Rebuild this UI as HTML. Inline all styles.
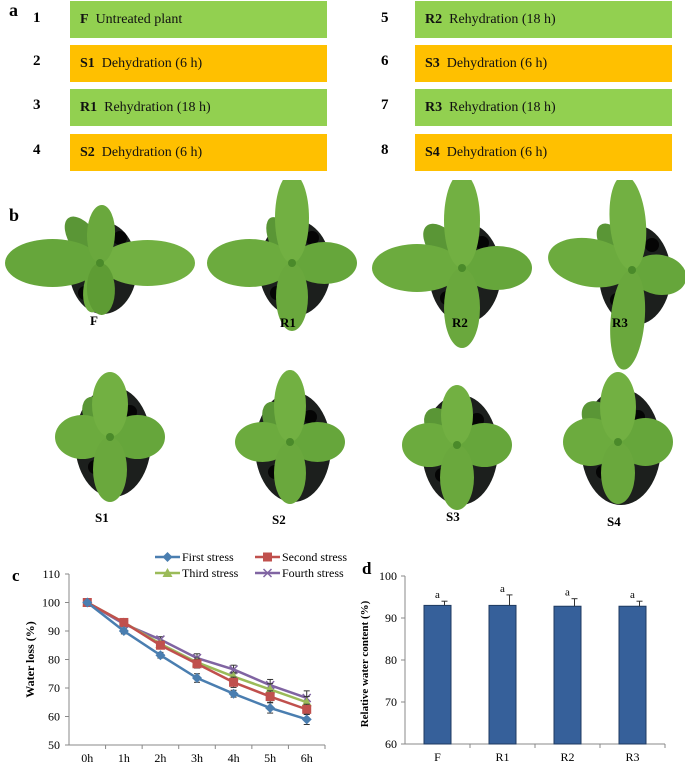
<!DOCTYPE html>
<html><head><meta charset="utf-8"><style>
html,body{margin:0;padding:0;background:#fff;}
body{width:685px;height:764px;position:relative;overflow:hidden;font-family:"Liberation Serif",serif;}
.box{position:absolute;height:37px;line-height:37px;font-size:14px;color:#111;padding-left:10px;box-sizing:border-box;}
.g{background:#92d050;} .o{background:#ffc000;}
.num{position:absolute;font-weight:bold;font-size:15px;}
.lbl{position:absolute;font-weight:bold;font-size:18px;}
svg text{font-family:"Liberation Serif",serif;}
</style></head><body>
<div class="lbl" style="left:9px;top:0px;">a</div>
<div class="num" style="left:33px;top:10px">1</div>
<div class="num" style="left:33px;top:53px">2</div>
<div class="num" style="left:33px;top:97px">3</div>
<div class="num" style="left:33px;top:142px">4</div>
<div class="num" style="left:381px;top:10px">5</div>
<div class="num" style="left:381px;top:53px">6</div>
<div class="num" style="left:381px;top:97px">7</div>
<div class="num" style="left:381px;top:142px">8</div>
<div class="box g" style="left:70px;top:1px;width:257px"><b>F</b>&nbsp; Untreated plant</div>
<div class="box o" style="left:70px;top:45px;width:257px"><b>S1</b>&nbsp; Dehydration (6 h)</div>
<div class="box g" style="left:70px;top:89px;width:257px"><b>R1</b>&nbsp; Rehydration (18 h)</div>
<div class="box o" style="left:70px;top:134px;width:257px"><b>S2</b>&nbsp; Dehydration (6 h)</div>
<div class="box g" style="left:415px;top:1px;width:257px"><b>R2</b>&nbsp; Rehydration (18 h)</div>
<div class="box o" style="left:415px;top:45px;width:257px"><b>S3</b>&nbsp; Dehydration (6 h)</div>
<div class="box g" style="left:415px;top:89px;width:257px"><b>R3</b>&nbsp; Rehydration (18 h)</div>
<div class="box o" style="left:415px;top:134px;width:257px"><b>S4</b>&nbsp; Dehydration (6 h)</div>

<div class="lbl" style="left:9px;top:205px;">b</div>
<svg id="plants" width="685" height="360" style="position:absolute;left:0;top:180px"></svg>

<svg id="chartd" width="345" height="220" style="position:absolute;left:340px;top:544px"></svg>
<svg id="chartc" width="350" height="220" style="position:absolute;left:0;top:544px"></svg>

<script>
const NS='http://www.w3.org/2000/svg';
function mk(parent,tag,attrs,text){const e=document.createElementNS(NS,tag);for(const k in attrs)e.setAttribute(k,attrs[k]);if(text!==undefined)e.textContent=text;parent.appendChild(e);return e;}

// ---- plants ----
const P=document.getElementById('plants');
const plants=[
 {n:'F',cx:100,cy:83,pr:[34,46],lx:90,ly:145,leaves:[[-125,55,14],[100,50,12],[180,95,24],[0,95,23],[-88,58,14],[88,52,14]]},
 {n:'R1',cx:292,cy:83,pr:[36,48],lx:280,ly:147,leaves:[[-115,50,12],[180,85,24],[0,65,21],[-90,90,17],[90,68,16]]},
 {n:'R2',cx:462,cy:88,pr:[36,50],lx:452,ly:147,leaves:[[-130,55,15],[180,90,24],[0,70,22],[-90,95,18],[90,80,18]]},
 {n:'R3',cx:632,cy:90,pr:[36,50],lx:612,ly:147,leaves:[[-125,55,14],[190,85,24],[10,55,20],[-95,95,18],[95,100,17]]},
 {n:'S1',cx:110,cy:257,pr:[38,55],lx:95,ly:342,leaves:[[-120,45,14],[180,55,22],[0,55,22],[-90,65,18],[90,65,17]]},
 {n:'S2',cx:290,cy:262,pr:[38,55],lx:272,ly:344,leaves:[[-120,45,14],[180,55,20],[0,55,20],[-90,72,16],[90,62,16]]},
 {n:'S3',cx:457,cy:265,pr:[38,55],lx:446,ly:341,leaves:[[-130,45,15],[180,55,22],[0,55,22],[-90,60,16],[90,65,17]]},
 {n:'S4',cx:618,cy:262,pr:[40,58],lx:607,ly:346,leaves:[[-130,50,16],[180,55,24],[0,55,24],[-90,70,18],[90,62,17]]}
];
plants.forEach(p=>{
  const g=mk(P,'g',{});
  
  
  mk(g,'ellipse',{cx:p.cx+3,cy:p.cy+5,rx:p.pr[0],ry:p.pr[1],fill:'#1c1f1d'});
  mk(g,'circle',{cx:p.cx-15,cy:p.cy+30,r:7,fill:'#050505'});
  mk(g,'circle',{cx:p.cx+20,cy:p.cy-25,r:7,fill:'#050505'});
  p.leaves.forEach((l,i)=>{
    const a=l[0]*Math.PI/180, L=l[1], w=l[2];
    const x=p.cx+Math.cos(a)*L/2, y=p.cy+Math.sin(a)*L/2;
    const col=['#5a9636','#6cab3e','#66a63b','#72b042','#6aa83d','#5e9c34'][i%6];
    mk(g,'ellipse',{cx:x,cy:y,rx:L/2,ry:w,fill:col,transform:`rotate(${l[0]} ${x} ${y})`});
  });
  mk(g,'circle',{cx:p.cx,cy:p.cy,r:4,fill:'#4a8a2a'});
  const t=mk(P,'text',{x:p.lx,y:p.ly,'font-size':13,'font-weight':'bold'},p.n);
  
  
});

// ---- chart c ----
const hours=['0h','1h','2h','3h','4h','5h','6h'];
const seriesNames=['First stress','Second stress','Third stress','Fourth stress'];
const firstVals=[100,90,81.5,73.5,68,63,59];
const secondVals=[100,93,85,78.5,72,67,62.5];
const thirdVals=[100,93,85.5,79,74,69.5,65];
const fourthVals=[100,92.5,87,80.5,76.5,71,66.5];
const firstErr=[0.5,1,1,1.5,1.2,1.8,1.8];
const secondErr=[0.5,1,1,1.5,1.8,2,1.8];
const thirdErr=[0.5,1,1,1.5,1.5,2,2];
const fourthErr=[0.5,1,1,1.5,1.5,2,2.5];
const cTicks=[50,60,70,80,90,100,110];
const C=document.getElementById('chartc');
const cx0=69,cx1=325,cyTop=574-544,cyBot=745-544;
const yC=v=>cyBot-(v-50)/60*(cyBot-cyTop);
const band=(cx1-cx0)/hours.length;
const xC=i=>cx0+band*(i+0.5);
mk(C,'text',{x:12,y:37,'font-size':17,'font-weight':'bold'},'c');
mk(C,'line',{x1:cx0,y1:cyTop,x2:cx0,y2:cyBot,stroke:'#888'});
mk(C,'line',{x1:cx0,y1:cyBot,x2:cx1,y2:cyBot,stroke:'#888'});
cTicks.forEach(v=>{mk(C,'line',{x1:cx0-4,y1:yC(v),x2:cx0,y2:yC(v),stroke:'#888'});
  mk(C,'text',{x:cx0-9,y:yC(v)+4,'font-size':12,'text-anchor':'end'},v);});
hours.forEach((h,i)=>{mk(C,'line',{x1:cx0+band*(i+1),y1:cyBot,x2:cx0+band*(i+1),y2:cyBot+4,stroke:'#888'});
  mk(C,'text',{x:xC(i),y:cyBot+17,'font-size':12,'text-anchor':'middle'},h);});
mk(C,'text',{x:0,y:0,'font-size':12,'font-weight':'bold','text-anchor':'middle',transform:`translate(34 ${(cyTop+cyBot)/2}) rotate(-90)`},'Water loss (%)');
const cols=['#4a7eb0','#c0504d','#9bbb59','#8064a2'];
const vals=[firstVals,secondVals,thirdVals,fourthVals];
const errs=[firstErr,secondErr,thirdErr,fourthErr];
function marker(g,k,x,y){
  const c=cols[k];
  if(k===0) mk(g,'path',{d:`M${x} ${y-5}L${x+5} ${y}L${x} ${y+5}L${x-5} ${y}Z`,fill:c});
  else if(k===1) mk(g,'rect',{x:x-4.5,y:y-4.5,width:9,height:9,fill:c});
  else if(k===2) mk(g,'path',{d:`M${x} ${y-5}L${x+5} ${y+4}L${x-5} ${y+4}Z`,fill:c});
  else mk(g,'path',{d:`M${x-4} ${y-4}L${x+4} ${y+4}M${x+4} ${y-4}L${x-4} ${y+4}`,stroke:c,'stroke-width':1.5});
}
[3,2,1,0].forEach(k=>{
  const g=mk(C,'g',{});
  
  
  vals[k].forEach((v,i)=>{const x=xC(i);mk(g,'line',{x1:x,y1:yC(v+errs[k][i]),x2:x,y2:yC(v-errs[k][i]),stroke:'#333'});
    mk(g,'line',{x1:x-3,y1:yC(v+errs[k][i]),x2:x+3,y2:yC(v+errs[k][i]),stroke:'#333'});
    mk(g,'line',{x1:x-3,y1:yC(v-errs[k][i]),x2:x+3,y2:yC(v-errs[k][i]),stroke:'#333'});});
  mk(g,'polyline',{points:vals[k].map((v,i)=>xC(i)+','+yC(v)).join(' '),fill:'none',stroke:cols[k],'stroke-width':2.5});
  vals[k].forEach((v,i)=>marker(g,k,xC(i),yC(v)));
});
const legPos=[[155,13],[255,13],[155,29],[255,29]];
seriesNames.forEach((n,k)=>{
  const g=mk(C,'g',{});
  
  
  const [lx,ly]=legPos[k];
  mk(g,'line',{x1:lx,y1:ly,x2:lx+25,y2:ly,stroke:cols[k],'stroke-width':2.5});
  marker(g,k,lx+12.5,ly);
  mk(g,'text',{x:lx+27,y:ly+4,'font-size':12},n);
});

// ---- chart d ----
const groups=['F','R1','R2','R3'];
const rwcVals=[93,93,92.8,92.8];
const rwcErr=[1,2.5,1.8,1.2];
const sigLetters=['a','a','a','a'];
const dTicks=[60,70,80,90,100];
const D=document.getElementById('chartd');
const dx0=65,dx1=325,dyTop=576-544,dyBot=744-544;
const yD=v=>dyBot-(v-60)/40*(dyBot-dyTop);
const dband=(dx1-dx0)/groups.length;
const xD=i=>dx0+dband*(i+0.5);
mk(D,'text',{x:22,y:30,'font-size':17,'font-weight':'bold'},'d');
mk(D,'line',{x1:dx0,y1:dyTop,x2:dx0,y2:dyBot,stroke:'#888'});
mk(D,'line',{x1:dx0,y1:dyBot,x2:dx1,y2:dyBot,stroke:'#888'});
dTicks.forEach(v=>{mk(D,'line',{x1:dx0-4,y1:yD(v),x2:dx0,y2:yD(v),stroke:'#888'});
  mk(D,'text',{x:dx0-8,y:yD(v)+4,'font-size':12,'text-anchor':'end'},v);});
mk(D,'text',{x:0,y:0,'font-size':11,'font-weight':'bold','text-anchor':'middle',transform:`translate(28 ${(dyTop+dyBot)/2+4}) rotate(-90)`},'Relative water content (%)');
groups.forEach((gname,i)=>{
  mk(D,'line',{x1:dx0+dband*(i+1),y1:dyBot,x2:dx0+dband*(i+1),y2:dyBot+4,stroke:'#888'});
  mk(D,'text',{x:xD(i),y:dyBot+17,'font-size':12,'text-anchor':'middle'},gname);
  const r=mk(D,'rect',{x:xD(i)-13.5,y:yD(rwcVals[i]),width:27,height:dyBot-yD(rwcVals[i]),fill:'#36609a',stroke:'#1f3a60','stroke-width':1});
  
  
  const top=yD(rwcVals[i]+rwcErr[i]);
  mk(D,'line',{x1:xD(i)+7,y1:yD(rwcVals[i]),x2:xD(i)+7,y2:top,stroke:'#333'});
  mk(D,'line',{x1:xD(i)+4,y1:top,x2:xD(i)+10,y2:top,stroke:'#333'});
  mk(D,'text',{x:xD(i),y:top-3,'font-size':11,'text-anchor':'middle'},sigLetters[i]);
});
</script>
</body></html>
